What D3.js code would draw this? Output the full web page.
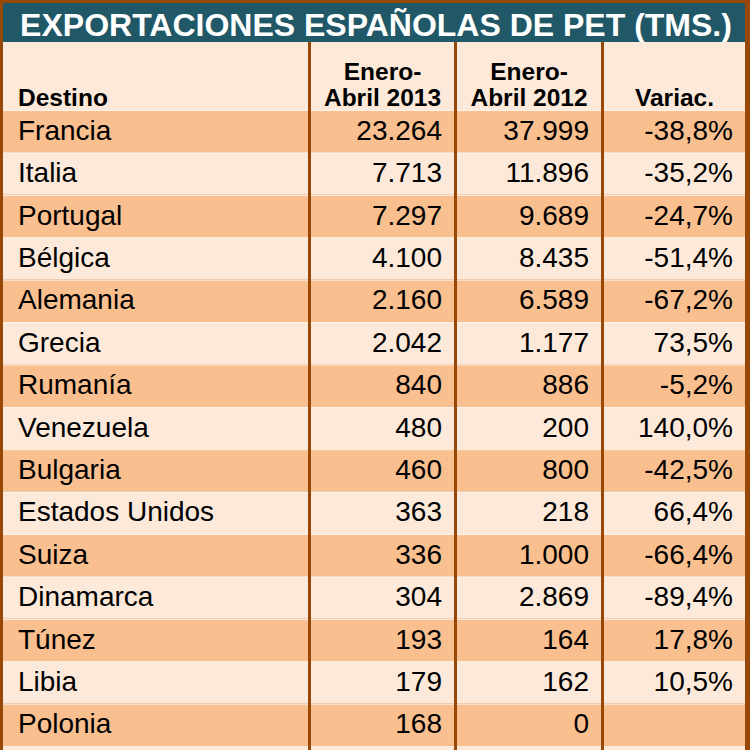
<!DOCTYPE html>
<html>
<head>
<meta charset="utf-8">
<script src="https://cdn.jsdelivr.net/npm/d3@7"></script>
<style>
  html, body { margin: 0; padding: 0; background: #ffffff; }
  svg { display: block; }
  text { font-family: "Liberation Sans", Arial, sans-serif; }
</style>
</head>
<body>
<script>
const title = "EXPORTACIONES ESPAÑOLAS DE PET (TMS.)";
const headers = [["Destino"], ["Enero-", "Abril 2013"], ["Enero-", "Abril 2012"], ["Variac."]];
const destinos = ["Francia", "Italia", "Portugal", "Bélgica", "Alemania", "Grecia", "Rumanía",
  "Venezuela", "Bulgaria", "Estados Unidos", "Suiza", "Dinamarca", "Túnez", "Libia", "Polonia"];
const v2013 = [23264, 7713, 7297, 4100, 2160, 2042, 840, 480, 460, 363, 336, 304, 193, 179, 168];
const v2012 = [37999, 11896, 9689, 8435, 6589, 1177, 886, 200, 800, 218, 1000, 2869, 164, 162, 0];
const variac = [-38.8, -35.2, -24.7, -51.4, -67.2, 73.5, -5.2, 140.0, -42.5, 66.4, -66.4, -89.4, 17.8, 10.5, null];

const W = 750, H = 750;
const colors = { brown: "#974806", teal: "#215868", dark: "#FABF8F", light: "#FDE9D9", line: "#FFF4EC" };

const loc = d3.formatLocale({ decimal: ",", thousands: ".", grouping: [3], currency: ["", "€"], minus: "-" });
const fInt = loc.format(",.0f");
const fPct = v => v == null ? "" : loc.format(",.1f")(v) + "%";

const svg = d3.select("body").append("svg").attr("width", W).attr("height", H);

// outer brown frame
svg.append("rect").attr("x", 0).attr("y", 0).attr("width", W).attr("height", H).attr("fill", colors.brown);

const left = 3, right = 745, titleTop = 3, titleBottom = 42, headBottom = 110, tableBottom = 746;
const colEdges = [left, 308, 454, 601, right];
const divW = 3;

// title bar
svg.append("rect").attr("x", left).attr("y", titleTop).attr("width", right - left).attr("height", titleBottom - titleTop).attr("fill", colors.teal);
svg.append("text").attr("x", (left + right) / 2 + 2).attr("y", 35.5).attr("text-anchor", "middle")
  .attr("fill", "#ffffff").attr("font-weight", "bold").attr("font-size", 32).text(title);

// header background
svg.append("rect").attr("x", left).attr("y", titleBottom).attr("width", right - left).attr("height", headBottom - titleBottom).attr("fill", colors.light);
// light bottom strip
svg.append("rect").attr("x", left).attr("y", tableBottom).attr("width", right - left).attr("height", H - tableBottom).attr("fill", colors.light);

const y = d3.scaleBand().domain(destinos).range([headBottom, tableBottom]).paddingInner(0);

// rows
svg.append("g").selectAll("rect").data(destinos).join("rect")
  .attr("x", left).attr("y", d => y(d)).attr("width", right - left).attr("height", y.bandwidth())
  .attr("fill", (d, i) => i % 2 === 0 ? colors.dark : colors.light);
// row separator lines
svg.append("g").selectAll("line").data(destinos).join("line")
  .attr("x1", left).attr("x2", right).attr("y1", d => y(d) + 0.5).attr("y2", d => y(d) + 0.5)
  .attr("stroke", colors.line).attr("stroke-width", 1);

// vertical dividers
svg.append("g").selectAll("rect").data(colEdges.slice(1, 4)).join("rect")
  .attr("x", d => d).attr("y", titleBottom).attr("width", divW).attr("height", H - titleBottom)
  .attr("fill", colors.brown);

// header text
const hg = svg.append("g").attr("font-weight", "bold").attr("font-size", 24.5).attr("fill", "#000");
hg.append("text").attr("x", 18).attr("y", 106).text(headers[0][0]);
[1, 2].forEach(c => {
  const cx = (colEdges[c] + divW + colEdges[c + 1]) / 2;
  hg.append("text").attr("x", cx).attr("y", 80).attr("text-anchor", "middle").text(headers[c][0]);
  hg.append("text").attr("x", cx).attr("y", 106).attr("text-anchor", "middle").text(headers[c][1]);
});
hg.append("text").attr("x", (colEdges[3] + divW + colEdges[4]) / 2).attr("y", 106).attr("text-anchor", "middle").text(headers[3][0]);

// body text
const bg = svg.append("g").attr("font-size", 28).attr("fill", "#000");
const base = d => y(d) + y.bandwidth() / 2 + 8.5;
bg.selectAll("text.dest").data(destinos).join("text").attr("class", "dest")
  .attr("x", 18).attr("y", d => base(d)).text(d => d);
bg.selectAll("text.v13").data(destinos).join("text").attr("class", "v13")
  .attr("x", colEdges[2] - 12).attr("y", d => base(d)).attr("text-anchor", "end").text((d, i) => fInt(v2013[i]));
bg.selectAll("text.v12").data(destinos).join("text").attr("class", "v12")
  .attr("x", colEdges[3] - 12).attr("y", d => base(d)).attr("text-anchor", "end").text((d, i) => fInt(v2012[i]));
bg.selectAll("text.var").data(destinos).join("text").attr("class", "var")
  .attr("x", colEdges[4] - 12).attr("y", d => base(d)).attr("text-anchor", "end").text((d, i) => fPct(variac[i]));
</script>
</body>
</html>
